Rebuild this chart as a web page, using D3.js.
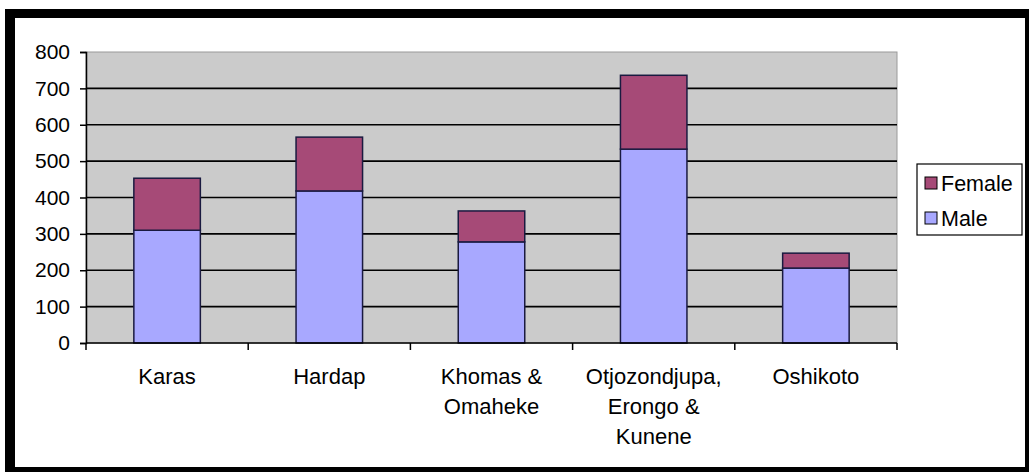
<!DOCTYPE html>
<html><head><meta charset="utf-8">
<script src="https://cdn.jsdelivr.net/npm/d3@7"></script>
<style>body{margin:0;background:#fff}svg{display:block}text{font-family:"Liberation Sans",Arial,sans-serif;fill:#000}</style>
</head><body>
<svg id="c" width="1029" height="472"></svg>
<script>
const categories = [["Karas"],["Hardap"],["Khomas &","Omaheke"],["Otjozondjupa,","Erongo &","Kunene"],["Oshikoto"]];
const categoryKeys = ["Karas","Hardap","Khomas & Omaheke","Otjozondjupa, Erongo & Kunene","Oshikoto"];
const maleValues = [310, 418, 278, 533, 206];
const femaleValues = [143, 148, 85, 203, 41];
const yTicks = [0,100,200,300,400,500,600,700,800];
const seriesNames = ["Male","Female"];
const legendOrder = ["Female","Male"];

const colors = {Male:"#a8a8ff", Female:"#a64a77"};
const svg = d3.select("#c");
// frame
svg.append("rect").attr("x",0).attr("y",0).attr("width",1029).attr("height",472).attr("fill","#fff");
svg.append("rect").attr("x",5).attr("y",9).attr("width",1024).attr("height",9).attr("fill","#000");
svg.append("rect").attr("x",5).attr("y",9).attr("width",10).attr("height",463).attr("fill","#000");
svg.append("rect").attr("x",1025).attr("y",9).attr("width",4).attr("height",463).attr("fill","#000");
svg.append("rect").attr("x",5).attr("y",467).attr("width",1024).attr("height",5).attr("fill","#000");

const L=86,R=897,T=52,B=343;
const x = d3.scaleBand().domain(categoryKeys).range([L,R]).paddingInner(0.59).paddingOuter(0.295);
const y = d3.scaleLinear().domain([0,800]).range([B,T]);

svg.append("rect").attr("x",L).attr("y",T).attr("width",R-L).attr("height",B-T).attr("fill","#cbcbcb").attr("stroke","#9a9a9a").attr("stroke-width",1);
svg.append("g").selectAll("line").data(yTicks.filter(d=>d>0 && d<800)).join("line")
  .attr("x1",L).attr("x2",R).attr("y1",d=>y(d)).attr("y2",d=>y(d)).attr("stroke","#000").attr("stroke-width",1.6);

const data = categoryKeys.map((k,i)=>({key:k, Male:maleValues[i], Female:femaleValues[i]}));
const stack = d3.stack().keys(seriesNames)(data);
svg.append("g").selectAll("g").data(stack).join("g").attr("fill",s=>colors[s.key])
  .selectAll("rect").data(s=>s).join("rect")
  .attr("x",d=>x(d.data.key)).attr("width",x.bandwidth())
  .attr("y",d=>y(d[1])).attr("height",d=>y(d[0])-y(d[1]))
  .attr("stroke","#1a1a40").attr("stroke-width",1.5);

// y axis
const ya = svg.append("g").attr("transform",`translate(${L},0)`)
  .call(d3.axisLeft(y).tickValues(yTicks).tickSize(6).tickPadding(10).tickFormat(d3.format("d")));
ya.select(".domain").attr("stroke","#000").attr("stroke-width",1.5);
ya.selectAll(".tick line").attr("stroke","#000").attr("stroke-width",1.5);
ya.selectAll("text").attr("font-size",21).attr("font-family","Liberation Sans, Arial, sans-serif");

// x axis
const xEdges = d3.scaleLinear().domain([0,5]).range([L,R]);
svg.append("line").attr("x1",L).attr("x2",R).attr("y1",B).attr("y2",B).attr("stroke","#000").attr("stroke-width",1.5);
svg.append("g").selectAll("line").data(d3.range(6)).join("line")
  .attr("x1",d=>xEdges(d)).attr("x2",d=>xEdges(d)).attr("y1",B).attr("y2",B+7).attr("stroke","#000").attr("stroke-width",1.5);
const xl = svg.append("g").selectAll("text").data(categoryKeys).join("text")
  .attr("x",d=>x(d)+x.bandwidth()/2).attr("y",384).attr("text-anchor","middle")
  .attr("font-size",22);
xl.each(function(d,i){
  d3.select(this).selectAll("tspan").data(categories[i]).join("tspan")
    .attr("x",x(d)+x.bandwidth()/2).attr("dy",(t,j)=>j===0?0:30).text(t=>t);
});

// legend
const lg = svg.append("g");
lg.append("rect").attr("x",917).attr("y",164).attr("width",105).attr("height",71).attr("fill","#fff").attr("stroke","#000").attr("stroke-width",1.2);
legendOrder.forEach((n,i)=>{
  const cy = 183 + i*35;
  lg.append("rect").attr("x",925).attr("y",cy-6).attr("width",12).attr("height",12).attr("fill",colors[n]).attr("stroke","#000").attr("stroke-width",1);
  lg.append("text").attr("x",941).attr("y",cy+8).attr("font-size",21.5).text(n);
});
</script>
</body></html>
